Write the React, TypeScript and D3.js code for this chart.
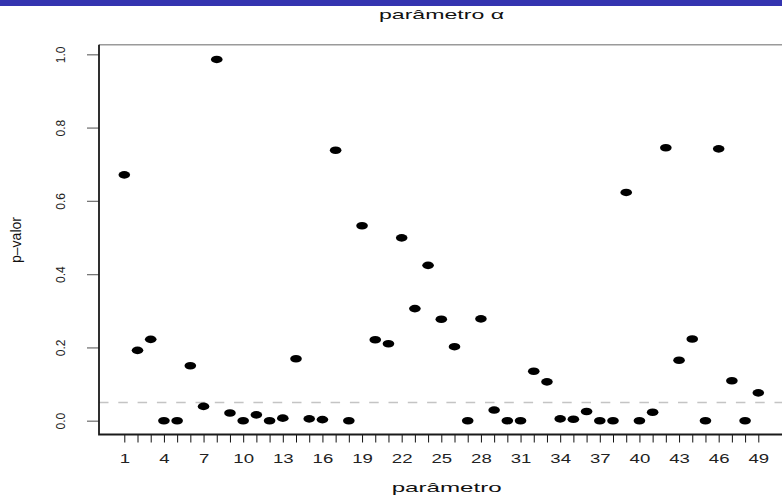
import React, { useEffect, useRef } from "react";
import * as d3 from "d3";

// índice do parâmetro (1..49)
const parametros: number[] = d3.range(1, 50);

// p-valores
const pValores: number[] = [
  0.671, 0.192, 0.222, 0.0, 0.0, 0.15, 0.039, 0.986, 0.021, 0.0,
  0.016, 0.0, 0.007, 0.169, 0.005, 0.003, 0.738, 0.0, 0.532, 0.221,
  0.21, 0.499, 0.306, 0.424, 0.277, 0.202, 0.0, 0.278, 0.029, 0.0,
  0.0, 0.135, 0.106, 0.005, 0.004, 0.025, 0.0, 0.0, 0.623, 0.0,
  0.023, 0.745, 0.165, 0.223, 0.0, 0.742, 0.109, 0.0, 0.076,
];

const yTicks: number[] = [0, 0.2, 0.4, 0.6, 0.8, 1.0];
const limiar = 0.05;

const WIDTH = 782;
const HEIGHT = 496;
const FONT = "'Liberation Sans', Arial, Helvetica, sans-serif";

const App: React.FC = () => {
  const chartRef = useRef<SVGSVGElement | null>(null);

  useEffect(() => {
    if (!chartRef.current) return;
    const svg = d3.select(chartRef.current);
    svg.selectAll("*").remove();

    // área do gráfico
    const left = 99;
    const top = 44.7;
    const bottom = 434.5;

    const x = d3.scaleLinear().domain([1, 49]).range([124.3, 758.3]);
    const y = d3.scaleLinear().domain([0, 1]).range([420.7, 54.3]);

    // faixa azul do slide
    svg.append("rect").attr("x", 0).attr("y", 0).attr("width", WIDTH).attr("height", 6).attr("fill", "#3434b0");

    // linha superior (cinza)
    svg
      .append("line")
      .attr("x1", left)
      .attr("x2", WIDTH)
      .attr("y1", top)
      .attr("y2", top)
      .attr("stroke", "#9a9a9a")
      .attr("stroke-width", 1.6);

    // linha tracejada em 0.05
    svg
      .append("line")
      .attr("x1", left)
      .attr("x2", WIDTH)
      .attr("y1", y(limiar))
      .attr("y2", y(limiar))
      .attr("stroke", "#c4c4c4")
      .attr("stroke-width", 1.5)
      .attr("stroke-dasharray", "9.5,9.8");

    // eixo X
    const gx = svg
      .append("g")
      .attr("transform", `translate(0,${bottom})`)
      .call(
        d3
          .axisBottom(x)
          .tickValues(parametros)
          .tickSize(8)
          .tickFormat((d) => ((+d - 1) % 3 === 0 ? String(d) : ""))
      );
    gx.select(".domain").remove();
    gx.selectAll(".tick line").attr("stroke", "#111").attr("stroke-width", 1);
    gx.selectAll(".tick text")
      .attr("y", null)
      .attr("dy", null)
      .attr("transform", "translate(0,28.5) scale(1.55,1)")
      .attr("font-family", FONT)
      .attr("font-size", 12)
      .attr("fill", "#222");

    // eixo Y
    const gy = svg
      .append("g")
      .attr("transform", `translate(${left},0)`)
      .call(d3.axisLeft(y).tickValues(yTicks).tickSize(12).tickFormat(d3.format(".1f")));
    gy.select(".domain").remove();
    gy.selectAll(".tick line").attr("stroke", "#777").attr("stroke-width", 1.3);
    gy.selectAll(".tick text")
      .attr("x", null)
      .attr("dy", null)
      .attr("text-anchor", "middle")
      .attr("transform", "translate(-34,0) rotate(-90)")
      .attr("font-family", FONT)
      .attr("font-size", 12)
      .attr("fill", "#222");

    // linhas do eixo (esquerda e base)
    svg
      .append("path")
      .attr("d", `M${left},${top} L${left},${bottom} L${WIDTH},${bottom}`)
      .attr("fill", "none")
      .attr("stroke", "#1a1a1a")
      .attr("stroke-width", 1.8);

    // pontos
    svg
      .append("g")
      .selectAll("ellipse")
      .data(pValores)
      .join("ellipse")
      .attr("cx", (_, i) => x(parametros[i]))
      .attr("cy", (d) => y(d))
      .attr("rx", 5.8)
      .attr("ry", 3.8)
      .attr("fill", "#000");

    // títulos
    svg
      .append("text")
      .attr("x", 441.5)
      .attr("y", 18.5)
      .attr("text-anchor", "middle")
      .attr("font-family", FONT)
      .attr("font-size", 13.5)
      .attr("textLength", 125)
      .attr("lengthAdjust", "spacingAndGlyphs")
      .attr("fill", "#111")
      .text("parâmetro α");

    svg
      .append("text")
      .attr("x", 446.7)
      .attr("y", 491.5)
      .attr("text-anchor", "middle")
      .attr("font-family", FONT)
      .attr("font-size", 13.5)
      .attr("textLength", 110)
      .attr("lengthAdjust", "spacingAndGlyphs")
      .attr("fill", "#111")
      .text("parâmetro");

    svg
      .append("text")
      .attr("transform", "translate(20.5,240) rotate(-90)")
      .attr("text-anchor", "middle")
      .attr("font-family", FONT)
      .attr("font-size", 14)
      .attr("fill", "#111")
      .text("p–valor");
  }, []);

  return (
    <svg
      ref={chartRef}
      width={WIDTH}
      height={HEIGHT}
      style={{ position: "absolute", left: 0, top: 0, background: "#fff" }}
    ></svg>
  );
};

export default App;
